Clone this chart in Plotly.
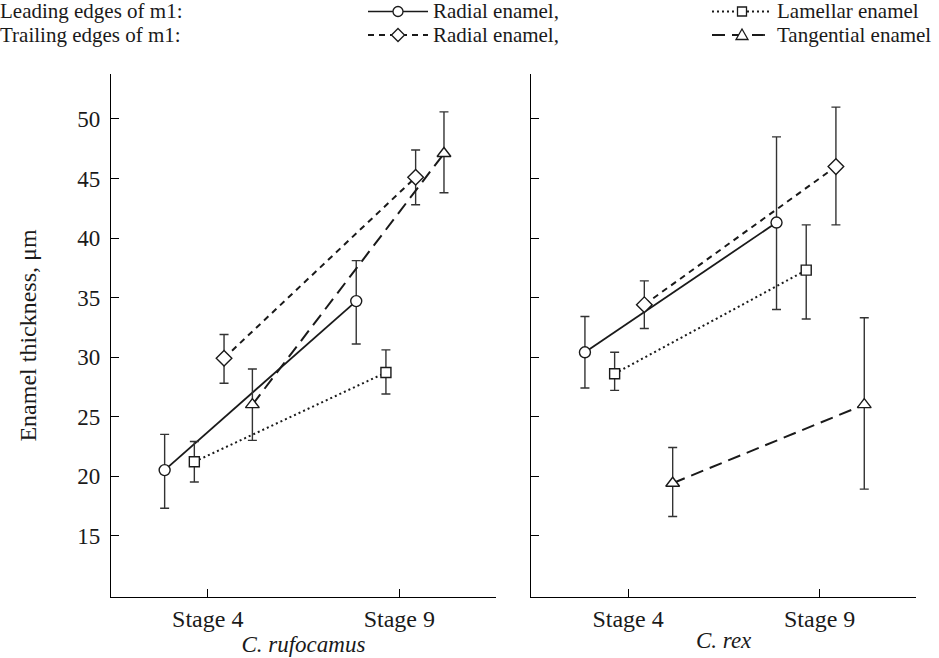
import plotly.graph_objects as go
from plotly.subplots import make_subplots

# ---------------- data ----------------
stages = ["Stage 4", "Stage 9"]
species = ["C. rufocamus", "C. rex"]
series_names = ["Radial enamel, leading", "Lamellar enamel", "Radial enamel, trailing", "Tangential enamel"]

# C. rufocamus
ruf_radial_lead = [20.5, 34.7]
ruf_radial_lead_up = [3.0, 3.4]
ruf_radial_lead_dn = [3.2, 3.6]
ruf_lamellar = [21.2, 28.7]
ruf_lamellar_up = [1.7, 1.9]
ruf_lamellar_dn = [1.7, 1.8]
ruf_radial_trail = [29.9, 45.1]
ruf_radial_trail_up = [2.0, 2.3]
ruf_radial_trail_dn = [2.1, 2.3]
ruf_tangential = [26.0, 47.1]
ruf_tangential_up = [3.0, 3.5]
ruf_tangential_dn = [3.0, 3.3]

# C. rex
rex_radial_lead = [30.4, 41.3]
rex_radial_lead_up = [3.0, 7.2]
rex_radial_lead_dn = [3.0, 7.3]
rex_lamellar = [28.6, 37.3]
rex_lamellar_up = [1.8, 3.8]
rex_lamellar_dn = [1.4, 4.1]
rex_radial_trail = [34.4, 46.0]
rex_radial_trail_up = [2.0, 5.0]
rex_radial_trail_dn = [2.0, 4.9]
rex_tangential = [19.4, 26.0]
rex_tangential_up = [3.0, 7.3]
rex_tangential_dn = [2.8, 7.1]

y_ticks = [15, 20, 25, 30, 35, 40, 45, 50]

# ---------------- styles ----------------
FONT = "Liberation Serif"
INK = "#1a1a1a"
W, H = 939, 658
ML, MR, MT, MB = 111, 23, 74, 61
PW, PH = W - ML - MR, H - MT - MB

styles = {
    "Radial enamel, leading": dict(symbol="circle", size=11, dash="solid", width=1.8, offset=-0.225),
    "Lamellar enamel": dict(symbol="square", size=10, dash="2px,3px", width=2.0, offset=-0.07),
    "Radial enamel, trailing": dict(symbol="diamond", size=12, dash="6px,5px", width=2.0, offset=0.085),
    "Tangential enamel": dict(symbol="triangle-up", size=12, dash="13px,7px", width=2.0, offset=0.233),
}

panels = [
    [(ruf_radial_lead, ruf_radial_lead_up, ruf_radial_lead_dn),
     (ruf_lamellar, ruf_lamellar_up, ruf_lamellar_dn),
     (ruf_radial_trail, ruf_radial_trail_up, ruf_radial_trail_dn),
     (ruf_tangential, ruf_tangential_up, ruf_tangential_dn)],
    [(rex_radial_lead, rex_radial_lead_up, rex_radial_lead_dn),
     (rex_lamellar, rex_lamellar_up, rex_lamellar_dn),
     (rex_radial_trail, rex_radial_trail_up, rex_radial_trail_dn),
     (rex_tangential, rex_tangential_up, rex_tangential_dn)],
]

fig = make_subplots(rows=1, cols=2, shared_yaxes=False, horizontal_spacing=0.0442)

base_x = list(range(1, len(stages) + 1))
for ci, panel in enumerate(panels):
    for name, (vals, up, dn) in zip(series_names, panel):
        st = styles[name]
        fig.add_trace(
            go.Scatter(
                x=[b + st["offset"] for b in base_x],
                y=vals,
                name=name,
                mode="lines+markers",
                line=dict(color=INK, width=st["width"], dash=st["dash"]),
                marker=dict(symbol=st["symbol"], size=st["size"], color="white",
                            line=dict(color=INK, width=1.4)),
                error_y=dict(type="data", array=up, arrayminus=dn, symmetric=False,
                             color="#333333", thickness=1.4, width=4.5),
                showlegend=False,
                cliponaxis=False,
            ),
            row=1, col=ci + 1,
        )

axis_common = dict(showline=True, linecolor="black", linewidth=1.3, ticks="inside",
                   ticklen=8, tickcolor="black", tickwidth=1.2, showgrid=False, zeroline=False,
                   mirror=False, automargin=False)
for ci in (1, 2):
    fig.update_xaxes(range=[0.495, 2.503], tickvals=base_x, ticktext=stages,
                     tickfont=dict(family=FONT, size=24, color=INK),
                     title=dict(text="<i>%s</i>" % species[ci - 1], standoff=0,
                                font=dict(family=FONT, size=23, color=INK)),
                     row=1, col=ci, **axis_common)
    fig.update_yaxes(range=[9.84, 53.78], tickvals=y_ticks,
                     tickfont=dict(family=FONT, size=23, color=INK),
                     showticklabels=(ci == 1), ticklabelstandoff=5,
                     row=1, col=ci, **axis_common)
fig.update_yaxes(title=dict(text="Enamel thickness, μm", standoff=33,
                            font=dict(family=FONT, size=24, color=INK)), row=1, col=1)


# ---------------- legend (drawn in pixel space) ----------------
def px(xp):
    return (xp - ML) / PW


def py(yp):
    return (H - MB - yp) / PH


LEG_FONT = 21
shapes = []
annotations = []
row_y = [11.5, 35]
row_labels = ["Leading edges of m1:", "Trailing edges of m1:"]
for ry, lab in zip(row_y, row_labels):
    annotations.append(dict(x=px(-1), y=py(ry), xref="paper", yref="paper", text=lab,
                            showarrow=False, xanchor="left", yanchor="middle", borderpad=0,
                            font=dict(family=FONT, size=LEG_FONT, color=INK)))

legend_items = [
    ("Radial enamel, leading", "Radial enamel,", 368, row_y[0]),
    ("Lamellar enamel", "Lamellar enamel", 712, row_y[0]),
    ("Radial enamel, trailing", "Radial enamel,", 368, row_y[1]),
    ("Tangential enamel", "Tangential enamel", 712, row_y[1]),
]
for key, label, x0, ry in legend_items:
    st = styles[key]
    x1 = x0 + 60
    xm = (x0 + x1) / 2
    shapes.append(dict(type="line", xref="paper", yref="paper", x0=px(x0), x1=px(x1),
                       y0=py(ry), y1=py(ry),
                       line=dict(color=INK, width=st["width"] - 0.2, dash=st["dash"])))
    r = 5
    sym = st["symbol"]
    mk = dict(xref="paper", yref="paper", fillcolor="white", line=dict(color=INK, width=1.3))
    if sym.startswith("circle"):
        shapes.append(dict(type="circle", x0=px(xm - r), x1=px(xm + r), y0=py(ry + r), y1=py(ry - r), **mk))
    elif sym.startswith("square"):
        shapes.append(dict(type="rect", x0=px(xm - 4.5), x1=px(xm + 4.5), y0=py(ry + 4.5), y1=py(ry - 4.5), **mk))
    elif sym.startswith("diamond"):
        pts = [(xm, ry - 6.5), (xm + 6.5, ry), (xm, ry + 6.5), (xm - 6.5, ry)]
        path = "M " + " L ".join("%f,%f" % (px(a), py(b)) for a, b in pts) + " Z"
        shapes.append(dict(type="path", path=path, **mk))
    else:
        pts = [(xm, ry - 6), (xm + 6, ry + 4.5), (xm - 6, ry + 4.5)]
        path = "M " + " L ".join("%f,%f" % (px(a), py(b)) for a, b in pts) + " Z"
        shapes.append(dict(type="path", path=path, **mk))
    annotations.append(dict(x=px(x1 + 4), y=py(ry), xref="paper", yref="paper", text=label,
                            showarrow=False, xanchor="left", yanchor="middle", borderpad=0,
                            font=dict(family=FONT, size=LEG_FONT, color=INK)))

fig.update_layout(
    width=W, height=H,
    margin=dict(l=ML, r=MR, t=MT, b=MB, autoexpand=False),
    paper_bgcolor="white", plot_bgcolor="white",
    font=dict(family=FONT, size=20, color=INK),
    shapes=shapes, annotations=annotations,
    showlegend=False,
)

fig.write_html("out.html", config={"displayModeBar": False},
               post_script="document.body.style.margin='0px';document.body.style.overflow='hidden';")
